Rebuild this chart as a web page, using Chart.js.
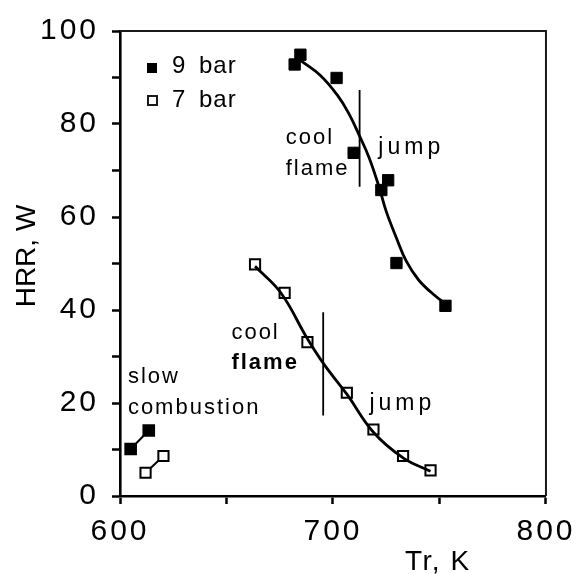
<!DOCTYPE html>
<html>
<head>
<meta charset="UTF-8">
<title>HRR vs Tr</title>
<script src="https://cdn.jsdelivr.net/npm/chart.js"></script>
<style>
    html, body { margin: 0; padding: 0; background: #fff; }
    canvas { display: block; }
</style>
</head>
<body>
<canvas id="chart" width="581" height="574"></canvas>
<script>
// 9 bar measurements (filled squares)
const bar9T   = [682.0, 684.7, 701.7, 709.7, 722.7, 725.9, 729.8, 752.8];
const bar9HRR = [92.8, 94.9, 89.9, 73.8, 65.8, 67.9, 50.1, 40.9];
// 7 bar measurements (open squares)
const bar7T   = [663.4, 677.3, 688.0, 706.5, 719.0, 732.9, 745.8];
const bar7HRR = [49.8, 43.7, 33.1, 22.2, 14.3, 8.6, 5.5];

// fitted curves
const fit9T   = [684.7, 694.0, 701.9, 707.4, 712.5, 717.1, 721.8, 725.0, 729.6, 734.3, 740.3, 748.1, 754.2];
const fit9HRR = [93.7, 90.5, 86.3, 82.3, 77.4, 72.6, 66.2, 61.2, 55.7, 50.6, 46.4, 43.0, 40.9];
const fit7T   = [663.4, 675.5, 688.0, 695.8, 706.5, 719.0, 732.9, 745.8];
const fit7HRR = [49.4, 43.7, 33.8, 28.3, 21.9, 13.7, 8.2, 5.3];

// slow combustion pairs
const slow9T   = [605.0, 613.5];
const slow9HRR = [10.1, 14.1];
const slow7T   = [612.0, 620.4];
const slow7HRR = [5.0, 8.6];

// cool flame / jump boundaries
const edge9T   = [712.5, 712.5];
const edge9HRR = [87.3, 66.5];
const edge7T   = [695.4, 695.4];
const edge7HRR = [39.5, 17.3];

// annotations
const noteText = ['cool', 'flame', 'jump', 'cool', 'flame', 'jump', 'slow', 'combustion'];
const noteT    = [677.8, 677.8, 721.3, 652.3, 652.3, 717.1, 603.7, 603.7];
const noteHRR  = [75.7, 69.0, 73.6, 33.8, 27.4, 18.4, 24.3, 17.7];

const xTicks = [600, 700, 800];
const yTicks = [0, 20, 40, 60, 80, 100];

const pts = (xs, ys) => xs.map((x, i) => ({ x: x, y: ys[i] }));

const tickFont = { family: 'Liberation Sans', size: 30 };

const decor = {
    id: 'decor',
    beforeDraw(chart) {
        chart.ctx.letterSpacing = '3px';
    },
    afterDraw(chart) {
        const ctx = chart.ctx;
        const a = chart.chartArea;
        const sx = chart.scales.x, sy = chart.scales.y;
        ctx.save();
        // top and right frame
        ctx.strokeStyle = '#1a1a1a';
        ctx.lineWidth = 2;
        ctx.beginPath();
        ctx.moveTo(a.left, a.top);
        ctx.lineTo(a.right, a.top);
        ctx.lineTo(a.right, a.bottom);
        ctx.stroke();

        ctx.fillStyle = '#000';
        ctx.textAlign = 'left';
        ctx.textBaseline = 'alphabetic';
        // notes
        noteText.forEach((t, i) => {
            const bold = (i === 4);
            const jump = (t === 'jump');
            ctx.font = (bold ? 'bold ' : '') + (jump ? '23px' : '22px') + ' "Liberation Sans"';
            ctx.letterSpacing = jump ? '4px' : '2px';
            ctx.fillText(t, sx.getPixelForValue(noteT[i]), sy.getPixelForValue(noteHRR[i]));
        });

        // legend
        ctx.font = '24px "Liberation Sans"';
        ctx.letterSpacing = '1px';
        ctx.wordSpacing = '5px';
        ctx.fillRect(147, 63, 10, 10);
        ctx.fillText('9 bar', 172, 73);
        ctx.lineWidth = 2;
        ctx.strokeRect(148, 96, 9, 9);
        ctx.fillText('7 bar', 172, 107);
        ctx.wordSpacing = '0px';

        // axis titles
        ctx.font = '28px "Liberation Sans"';
        ctx.letterSpacing = '1.5px';
        ctx.fillText('Tr, K', 405, 570);
        ctx.translate(35, 256);
        ctx.rotate(-Math.PI / 2);
        ctx.textAlign = 'center';
        ctx.letterSpacing = '0px';
        ctx.fillText('HRR, W', 0, 0);
        ctx.restore();
    }
};

new Chart(document.getElementById('chart').getContext('2d'), {
    type: 'scatter',
    data: {
        datasets: [
            {
                data: pts(fit9T, fit9HRR), showLine: true, pointRadius: 0,
                borderColor: '#000', borderWidth: 2.8, tension: 0.4
            },
            {
                data: pts(fit7T, fit7HRR), showLine: true, pointRadius: 0,
                borderColor: '#000', borderWidth: 2.8, tension: 0.4
            },
            {
                data: pts(edge9T, edge9HRR), showLine: true, pointRadius: 0,
                borderColor: '#000', borderWidth: 1.8
            },
            {
                data: pts(edge7T, edge7HRR), showLine: true, pointRadius: 0,
                borderColor: '#000', borderWidth: 1.8
            },
            {
                data: pts(slow9T, slow9HRR), showLine: true, borderColor: '#000', borderWidth: 2,
                pointStyle: 'rect', pointRadius: 7.5, backgroundColor: '#000'
            },
            {
                data: pts(slow7T, slow7HRR), showLine: true, borderColor: '#000', borderWidth: 2,
                pointStyle: 'rect', pointRadius: 7.2, pointBorderWidth: 2,
                pointBackgroundColor: '#fff', pointBorderColor: '#000'
            },
            {
                data: pts(bar9T, bar9HRR), showLine: false,
                pointStyle: 'rect', pointRadius: 8, pointBackgroundColor: '#000', pointBorderColor: '#000'
            },
            {
                data: pts(bar7T, bar7HRR), showLine: false,
                pointStyle: 'rect', pointRadius: 7.2, pointBorderWidth: 2,
                pointBackgroundColor: '#fff', pointBorderColor: '#000'
            }
        ]
    },
    options: {
        responsive: false,
        animation: false,
        devicePixelRatio: 1,
        layout: { padding: { top: 23, right: 30, left: 0, bottom: 0 } },
        plugins: { legend: { display: false }, tooltip: { enabled: false } },
        scales: {
            x: {
                type: 'linear', min: 600, max: 800,
                afterBuildTicks: s => { s.ticks = [600, 650, 700, 750, 800].map(v => ({ value: v })); },
                ticks: {
                    callback: v => xTicks.includes(v) ? v : '',
                    font: tickFont, color: '#000', padding: 10,
                    maxRotation: 0, autoSkip: false
                },
                grid: { drawOnChartArea: false, tickLength: 8, tickWidth: 2.5, tickColor: '#000' },
                border: { color: '#000', width: 2.6 },
                afterFit: s => { s.height = 78; }
            },
            y: {
                min: 0, max: 100,
                afterBuildTicks: s => {
                    const t = [];
                    for (let v = 0; v <= 100; v += 10) t.push({ value: v });
                    s.ticks = t;
                },
                ticks: {
                    callback: v => yTicks.includes(v) ? v : '',
                    font: tickFont, color: '#000', padding: 13, autoSkip: false
                },
                grid: { drawOnChartArea: false, tickLength: 8, tickWidth: 2.5, tickColor: '#000' },
                border: { color: '#000', width: 2.6 },
                afterFit: s => { s.width = 120; }
            }
        }
    },
    plugins: [decor]
});
</script>
</body>
</html>
